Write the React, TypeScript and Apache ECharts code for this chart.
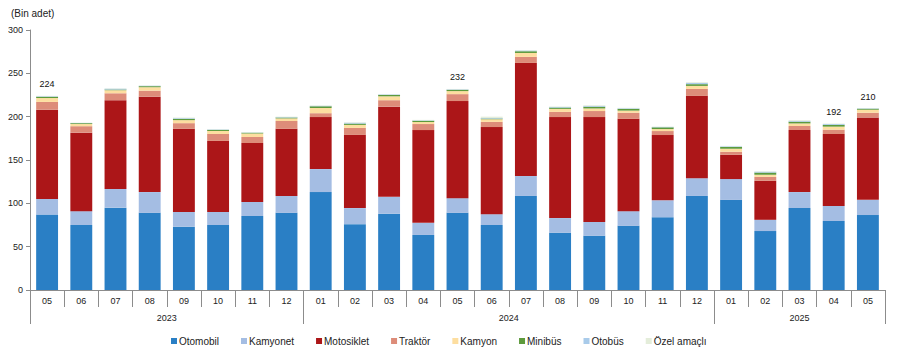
import React, { useEffect, useRef } from "react";
import * as echarts from "echarts";

const months = ["05","06","07","08","09","10","11","12","01","02","03","04","05","06","07","08","09","10","11","12","01","02","03","04","05"];
const years = ["2023", "2024", "2025"];
const yearLabelPos = [4, 14, 22.5];
const yearBounds = [0, 8, 20, 25];

const otomobil = [87, 75, 95, 89, 73, 75, 85.5, 89, 113, 76, 88, 63.5, 89, 75, 108.5, 66, 62.5, 74, 84, 108.5, 104, 68, 94.6, 79.6, 86.5];
const kamyonet = [18, 16, 21.5, 24, 17, 15, 16, 19.5, 26.5, 18.5, 19.5, 14, 17, 12.5, 23, 17, 16, 17, 19.5, 20.5, 24, 13, 18.4, 17.4, 17.5];
const motosiklet = [103, 90.5, 102.5, 110, 96, 82, 68, 77.5, 60, 84.5, 104, 107, 112, 100.5, 130.5, 116.5, 121, 106.5, 75.3, 95, 28, 45, 71.6, 83, 95];
const traktor = [9, 7.5, 8, 7, 6.5, 8, 7, 9, 4.5, 8, 7.5, 7, 8, 6, 7, 6, 7, 7, 4.6, 8, 3.5, 4.5, 4.6, 5, 5.5];
const kamyon = [4.5, 2.5, 3.5, 4, 3.5, 3.5, 4, 3, 6, 3.5, 4.5, 2.3, 3.5, 3, 4.5, 3.5, 3, 2.5, 2.3, 3.5, 3.5, 2.5, 3, 3.5, 3.5];
const minibus = [1.5, 1, 0.8, 1.2, 1.5, 1.2, 1, 1, 2, 1.5, 1.5, 1.5, 1.5, 0.8, 2, 1.5, 2, 2, 2, 2, 2, 2.5, 2, 2, 1.2];
const otobus = [0.6, 0.3, 1, 0.5, 0.8, 0.6, 0.3, 0.5, 0.5, 1, 0.7, 0.5, 0.6, 0.7, 0.8, 0.7, 1, 0.7, 0.5, 1.5, 0.8, 1, 1, 1, 0.5];
const ozel = [0.4, 0.2, 0.4, 0.3, 0.7, 0.4, 0.2, 0.5, 0.5, 0.5, 0.5, 0.5, 0.4, 1.5, 0.5, 0.5, 0.7, 0.5, 0.3, 0.8, 0.5, 0.5, 0.8, 0.5, 0.3];
const labeledIdx = [0, 12, 23, 24];

const seriesDefs = [
  { name: "Otomobil", data: otomobil, color: "#2A7FC5" },
  { name: "Kamyonet", data: kamyonet, color: "#A4BDE3" },
  { name: "Motosiklet", data: motosiklet, color: "#AC1618" },
  { name: "Traktör", data: traktor, color: "#DD8C79" },
  { name: "Kamyon", data: kamyon, color: "#FDDEA0" },
  { name: "Minibüs", data: minibus, color: "#5D9A3C" },
  { name: "Otobüs", data: otobus, color: "#A9CBEA" },
  { name: "Özel amaçlı", data: ozel, color: "#E4EDDA" },
];

export default function App() {
  const ref = useRef<HTMLDivElement>(null);
  useEffect(() => {
    if (!ref.current) return;
    const chart = echarts.init(ref.current, null, { renderer: "svg" });
    const totals = months.map((_, i) => seriesDefs.reduce((s, d) => s + d.data[i], 0));
    const font = "Liberation Sans, Arial, sans-serif";
    const series: any[] = seriesDefs.map((d, si) => ({
      name: d.name,
      type: "bar",
      stack: "total",
      xAxisIndex: 0,
      barWidth: "64%",
      itemStyle: { color: d.color },
      data: d.data.map((v, i) => {
        if (si === seriesDefs.length - 1 && labeledIdx.includes(i)) {
          return {
            value: v,
            label: {
              show: true,
              position: "top",
              distance: 7,
              formatter: String(Math.round(totals[i])),
              fontSize: 9,
              color: "#111",
              fontFamily: font,
            },
          };
        }
        return v;
      }),
    }));
    chart.setOption({
      animation: false,
      textStyle: { fontFamily: font },
      title: {
        text: "(Bin adet)",
        left: 6,
        top: 3,
        textStyle: { fontSize: 10, fontWeight: "normal", color: "#222", fontFamily: font },
      },
      legend: {
        left: 166,
        top: 331,
        icon: "rect",
        itemWidth: 6,
        itemHeight: 6,
        itemGap: 22,
        textStyle: { fontSize: 10, color: "#222", fontFamily: font, padding: [0, 0, 0, -3] },
        data: seriesDefs.map((d) => d.name),
      },
      grid: { left: 30, right: 12, top: 30, bottom: 65, containLabel: false },
      xAxis: [
        {
          type: "category",
          data: months,
          position: "bottom",
          axisLine: { show: true, lineStyle: { color: "#8c8c8c", width: 1 } },
          axisTick: { show: true, interval: 0, length: 17, lineStyle: { color: "#8c8c8c" } },
          axisLabel: { interval: 0, fontSize: 9, color: "#222", margin: 6, fontFamily: font },
        },
        {
          type: "value",
          min: 0,
          max: 25,
          position: "bottom",
          axisLine: { show: false },
          splitLine: { show: false },
          axisTick: { show: true, length: 34, customValues: yearBounds, lineStyle: { color: "#8c8c8c" } },
          axisLabel: {
            customValues: yearLabelPos,
            margin: 23,
            fontSize: 9,
            color: "#222",
            fontFamily: font,
            formatter: (v: number) => {
              const k = yearLabelPos.indexOf(v);
              return k >= 0 ? years[k] : "";
            },
          },
        },
      ],
      yAxis: {
        type: "value",
        min: 0,
        max: 300,
        interval: 50,
        axisLine: { show: true, lineStyle: { color: "#8c8c8c" } },
        axisTick: { show: true, length: 4, lineStyle: { color: "#8c8c8c" } },
        splitLine: { show: false },
        axisLabel: { fontSize: 9, color: "#222", margin: 7, fontFamily: font },
      },
      series,
    });
    return () => chart.dispose();
  }, []);
  return <div ref={ref} style={{ width: 897, height: 355, margin: -8 }} />;
}
